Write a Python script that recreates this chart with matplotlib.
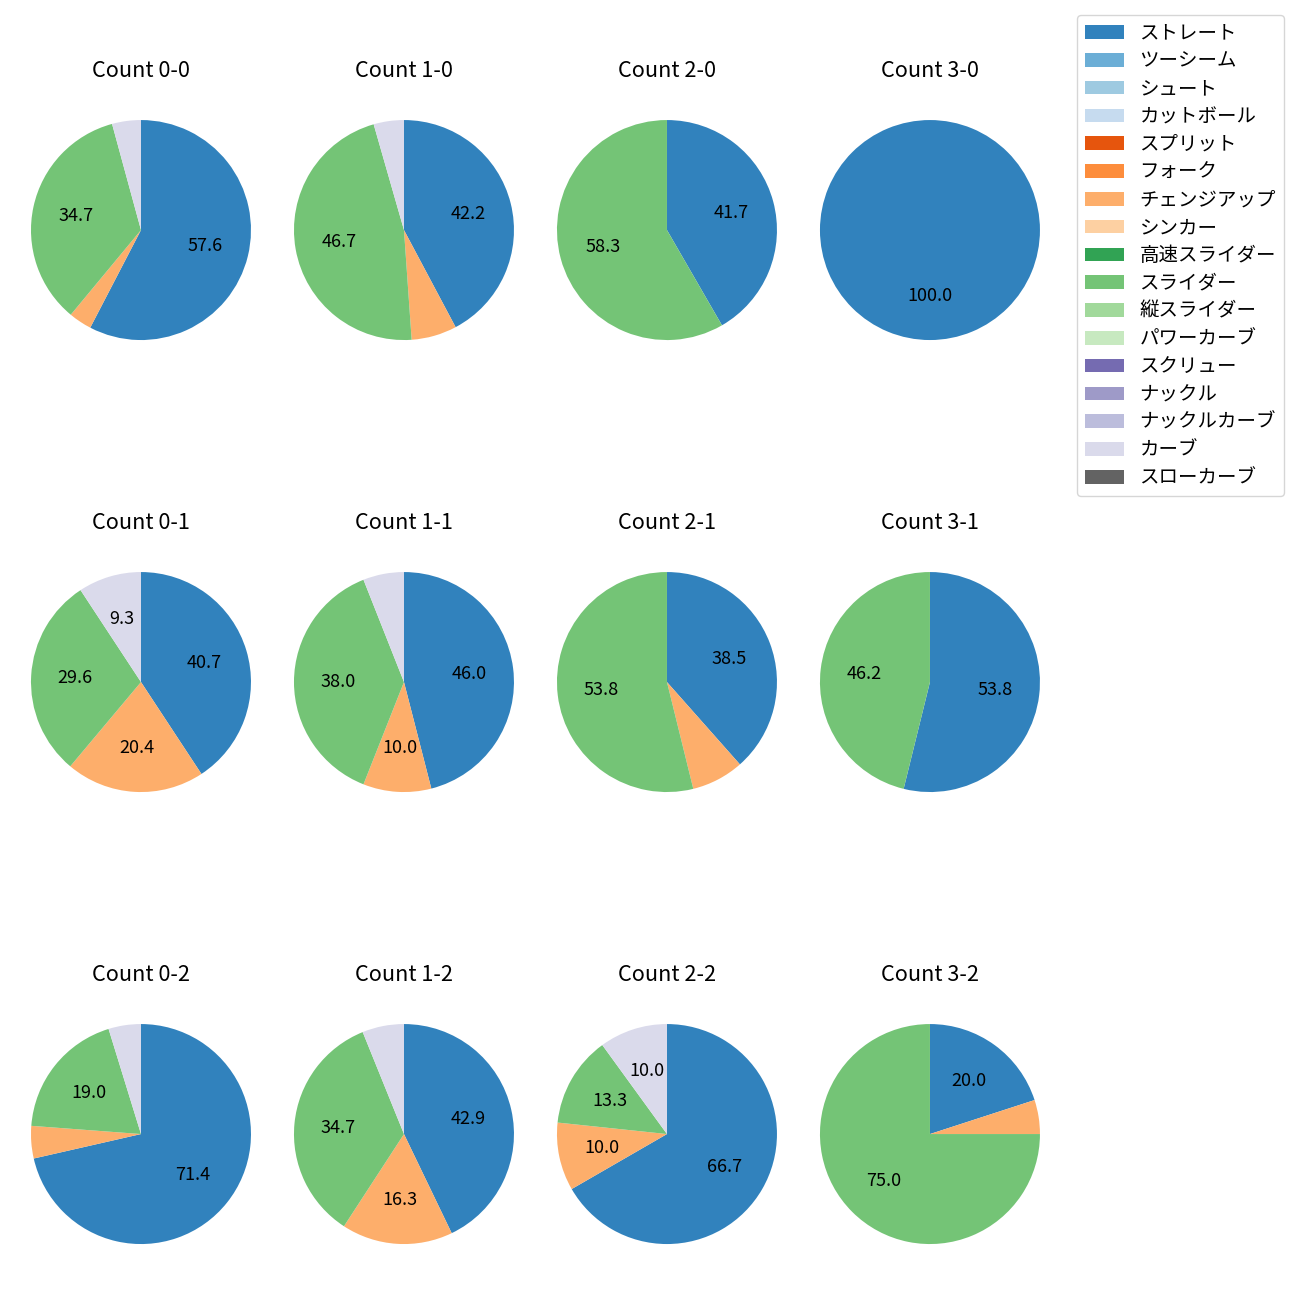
import matplotlib
matplotlib.use("Agg")
import matplotlib.pyplot as plt
from matplotlib.patches import Patch

plt.rcParams['font.family'] = ['Noto Sans CJK JP', 'DejaVu Sans']
plt.rcParams['font.size'] = 13

# pitch types and their colours (tab20c order)
pitch_types = ['ストレート', 'ツーシーム', 'シュート', 'カットボール', 'スプリット', 'フォーク',
               'チェンジアップ', 'シンカー', '高速スライダー', 'スライダー', '縦スライダー',
               'パワーカーブ', 'スクリュー', 'ナックル', 'ナックルカーブ', 'カーブ', 'スローカーブ']
pitch_colors = ['#3182bd', '#6baed6', '#9ecae1', '#c6dbef', '#e6550d', '#fd8d3c',
                '#fdae6b', '#fdd0a2', '#31a354', '#74c476', '#a1d99b', '#c7e9c0',
                '#756bb1', '#9e9ac8', '#bcbddc', '#dadaeb', '#636363']

# ball-strike counts, row = strikes, column = balls
counts = ['0-0', '1-0', '2-0', '3-0',
          '0-1', '1-1', '2-1', '3-1',
          '0-2', '1-2', '2-2', '3-2']

# pitches thrown per count (only these four types appear)
straight = [68, 19, 5, 1, 22, 23, 5, 7, 15, 21, 20, 4]
changeup = [4, 3, 0, 0, 11, 5, 1, 0, 1, 8, 3, 1]
slider = [41, 21, 7, 0, 16, 19, 7, 6, 4, 17, 4, 15]
curve = [5, 2, 0, 0, 5, 3, 0, 0, 1, 3, 3, 0]

fig, axes = plt.subplots(3, 4, figsize=(13, 13))
fig.subplots_adjust(left=0.0123, right=0.8115, bottom=0.0315, top=0.9192,
                    wspace=0.052, hspace=0.808)

for i, ax in enumerate(axes.flat):
    vals = {'ストレート': straight[i], 'チェンジアップ': changeup[i],
            'スライダー': slider[i], 'カーブ': curve[i]}
    sizes = [vals.get(p, 0) for p in pitch_types]
    ax.pie(sizes, colors=pitch_colors, startangle=90, counterclock=False,
           radius=1.1, autopct=lambda p: f'{p:.1f}' if p > 8 else '')
    ax.set_title(f'Count {counts[i]}', pad=20.5)

handles = [Patch(facecolor=c, label=p) for p, c in zip(pitch_types, pitch_colors)]
fig.legend(handles=handles, loc='upper right', bbox_to_anchor=(0.995, 0.996),
           fontsize=14, labelspacing=0.35)

fig.savefig('out.png', dpi=100)
